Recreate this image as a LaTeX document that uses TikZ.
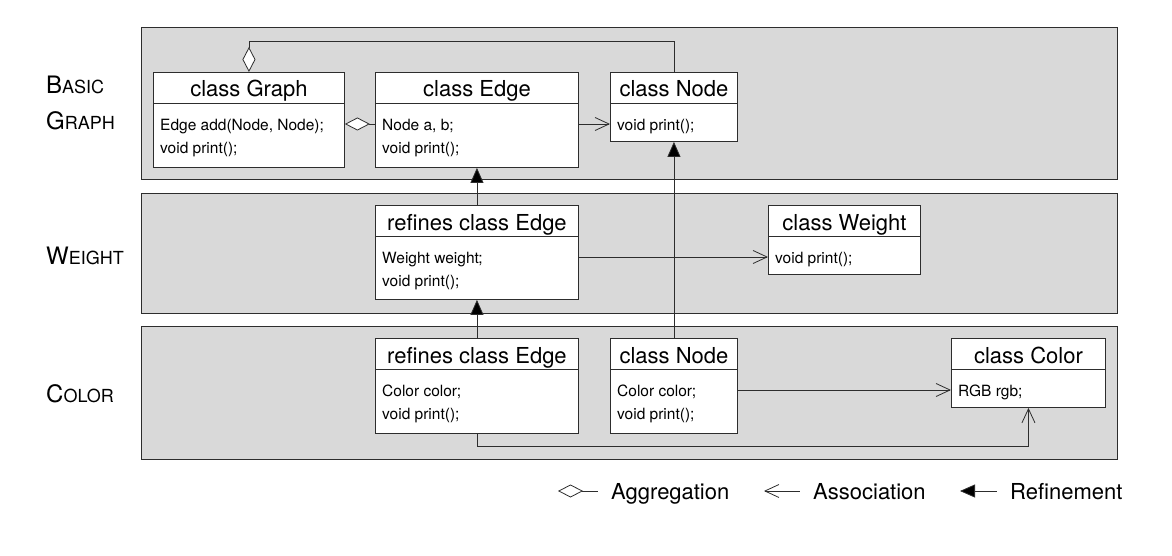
\documentclass[tikz,border=0pt]{standalone}
\usepackage{fontspec}
\setmainfont{TeX Gyre Heros}
\usetikzlibrary{arrows.meta}
\definecolor{layergray}{RGB}{217,217,217}
\definecolor{linegray}{RGB}{45,45,45}
\newcommand\lyrcaps[2]{{\fontsize{24}{28}\selectfont #1}{\fontsize{18}{22}\selectfont #2}}
\begin{document}
\begin{tikzpicture}[x=1pt,y=-1pt,
  layer/.style={draw=linegray, fill=layergray, line width=0.9pt, minimum width=976pt, anchor=north west, inner sep=0pt},
  cls/.style={draw=linegray, fill=white, line width=0.9pt, anchor=north west, inner sep=0pt},
  hdr/.style={font=\fontsize{22}{26}\selectfont, inner sep=0pt, anchor=base},
  mem/.style={font=\fontsize{15.5}{18}\selectfont, inner sep=0pt, anchor=base west},
  lbl/.style={inner sep=0pt, anchor=base west},
  leg/.style={font=\fontsize{22}{26}\selectfont, inner sep=0pt, anchor=base west},
  conn/.style={draw=linegray, line width=0.8pt},
  agg/.style={conn, {Diamond[length=25pt,width=13pt,fill=white,line width=0.8pt]}-},
  assoc/.style={conn, -{Straight Barb[length=14pt,width=13pt,line width=0.8pt]}},
  assocL/.style={conn, {Straight Barb[length=14pt,width=13pt,line width=0.8pt]}-},
  refine/.style={conn, {Triangle[length=15pt,width=13pt,fill=black]}-}
]
\useasboundingbox (0,0) rectangle (1172,556);

% layers
\node[layer, minimum height=152pt] (Lbasic) at (141,27) {};
\node[layer, minimum height=120pt] (Lweight) at (141,193) {};
\node[layer, minimum height=133pt] (Lcolor) at (141,326) {};

% layer labels
\node[lbl] (t1) at (46,94) {\lyrcaps{B}{ASIC}};
\node[lbl] (t2) at (46,130) {\lyrcaps{G}{RAPH}};
\node[lbl] (t3) at (46,264) {\lyrcaps{W}{EIGHT}};
\node[lbl] (t4) at (46,402) {\lyrcaps{C}{OLOR}};

% classes
\node[cls, minimum width=191pt, minimum height=95pt] (g) at (153,72) {};
\node[cls, minimum width=203pt, minimum height=95pt] (eb) at (375,72) {};
\node[cls, minimum width=127pt, minimum height=69pt] (nb) at (610,72) {};
\node[cls, minimum width=203pt, minimum height=94pt] (ew) at (375,205) {};
\node[cls, minimum width=152pt, minimum height=69pt] (wt) at (768,205) {};
\node[cls, minimum width=203pt, minimum height=95pt] (ec) at (375,338) {};
\node[cls, minimum width=127pt, minimum height=95pt] (nc) at (610,338) {};
\node[cls, minimum width=154pt, minimum height=69pt] (cl) at (951,338) {};

\foreach \c in {g,eb,nb,ew,wt,ec,nc,cl}
  \draw[draw=linegray, line width=0.9pt] ([yshift=-31pt]\c.north west) -- ([yshift=-31pt]\c.north east);

% headers
\node[hdr] (gh) at ([yshift=-25pt]g.north) {class Graph};
\node[hdr] (ebh) at ([yshift=-25pt]eb.north) {class Edge};
\node[hdr] (nbh) at ([yshift=-25pt]nb.north) {class Node};
\node[hdr] (ewh) at ([yshift=-25pt]ew.north) {refines class Edge};
\node[hdr] (wth) at ([yshift=-25pt]wt.north) {class Weight};
\node[hdr] (ech) at ([yshift=-25pt]ec.north) {refines class Edge};
\node[hdr] (nch) at ([yshift=-25pt]nc.north) {class Node};
\node[hdr] (clh) at ([yshift=-25pt]cl.north) {class Color};

% members
\node[mem] (g1) at ([xshift=7pt,yshift=-59pt]g.north west) {Edge add(Node, Node);};
\node[mem] (g2) at ([xshift=7pt,yshift=-82pt]g.north west) {void print();};
\node[mem] (eb1) at ([xshift=7pt,yshift=-59pt]eb.north west) {Node a, b;};
\node[mem] (eb2) at ([xshift=7pt,yshift=-82pt]eb.north west) {void print();};
\node[mem] (nb1) at ([xshift=7pt,yshift=-59pt]nb.north west) {void print();};
\node[mem] (ew1) at ([xshift=7pt,yshift=-58pt]ew.north west) {Weight weight;};
\node[mem] (ew2) at ([xshift=7pt,yshift=-81pt]ew.north west) {void print();};
\node[mem] (wt1) at ([xshift=7pt,yshift=-58pt]wt.north west) {void print();};
\node[mem] (ec1) at ([xshift=7pt,yshift=-58pt]ec.north west) {Color color;};
\node[mem] (ec2) at ([xshift=7pt,yshift=-81pt]ec.north west) {void print();};
\node[mem] (nc1) at ([xshift=7pt,yshift=-58pt]nc.north west) {Color color;};
\node[mem] (nc2) at ([xshift=7pt,yshift=-81pt]nc.north west) {void print();};
\node[mem] (cl1) at ([xshift=7pt,yshift=-58pt]cl.north west) {RGB rgb;};

% routing coordinates
\coordinate (topbus) at (0,41);
\coordinate (rowB) at (0,124);
\coordinate (rowW) at (0,257);
\coordinate (rowC) at (0,390);
\coordinate (cbus) at (0,446);

% connectors
\draw[agg] (g.north) -- (g.north |- topbus) -| (nb.north);
\draw[agg] (g.east |- rowB) -- (eb.west |- rowB);
\draw[assoc] (eb.east |- rowB) -- (nb.west |- rowB);
\draw[refine] (eb.south) -- (ew.north);
\draw[refine] (ew.south) -- (ec.north);
\draw[refine] (nb.south) -- (nc.north);
\draw[assoc] (ew.east |- rowW) -- (wt.west |- rowW);
\draw[assoc] (nc.east |- rowC) -- (cl.west |- rowC);
\draw[assoc] (ec.south) -- (ec.south |- cbus) -| (cl.south);

% legend
\coordinate (la1) at (558,491);
\coordinate (la2) at (598,491);
\coordinate (lb1) at (764,491);
\coordinate (lb2) at (800,491);
\coordinate (lc1) at (960,491);
\coordinate (lc2) at (997,491);
\draw[agg] (la1) -- (la2);
\draw[assocL] (lb1) -- (lb2);
\draw[refine] (lc1) -- (lc2);
\node[leg] (lt1) at (611,499) {Aggregation};
\node[leg] (lt2) at (813,499) {Association};
\node[leg] (lt3) at (1010,499) {Refinement};
\end{tikzpicture}
\end{document}
